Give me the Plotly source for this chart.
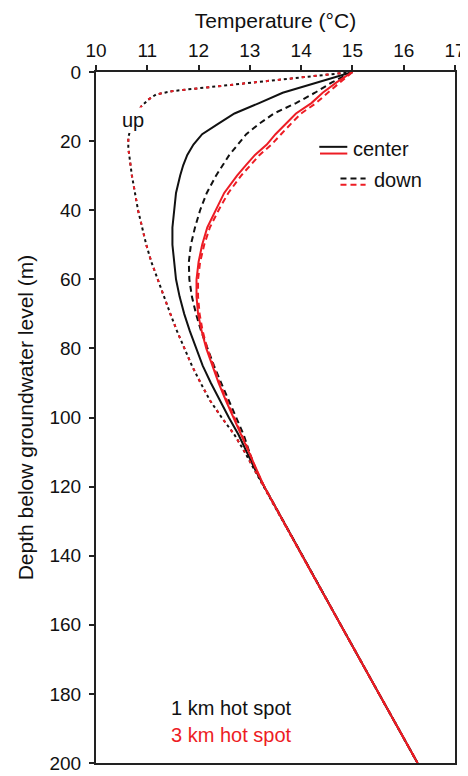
import plotly.graph_objects as go

# ---------------- data ----------------
depth = [0, 3, 6, 9, 12, 15, 18, 21, 24, 27, 30, 35, 40, 45, 50, 55, 60, 65,
         70, 75, 80, 85, 90, 95, 100, 105, 110, 115, 120, 140, 160, 180, 200]

center_1km = [15.0, 14.32, 13.64, 13.18, 12.70, 12.38, 12.07, 11.90, 11.78, 11.70,
              11.64, 11.56, 11.52, 11.49, 11.49, 11.52, 11.56, 11.63, 11.72, 11.83,
              11.95, 12.08, 12.24, 12.41, 12.59, 12.78, 12.94, 13.10, 13.28,
              14.02, 14.77, 15.52, 16.27]

down_1km = [15.0, 14.60, 14.27, 13.90, 13.47, 13.18, 12.93, 12.77, 12.60, 12.47,
            12.34, 12.16, 12.03, 11.93, 11.85, 11.81, 11.82, 11.87, 11.95, 12.05,
            12.17, 12.30, 12.44, 12.59, 12.74, 12.88, 12.99, 13.11, 13.28,
            14.02, 14.77, 15.52, 16.27]

center_3km = [15.0, 14.69, 14.42, 14.20, 13.90, 13.70, 13.50, 13.33, 13.10, 12.92,
              12.75, 12.50, 12.33, 12.17, 12.07, 12.00, 11.96, 11.96, 11.99, 12.06,
              12.15, 12.27, 12.39, 12.53, 12.68, 12.83, 12.98, 13.12, 13.28,
              14.02, 14.77, 15.52, 16.27]

down_3km = [15.0, 14.75, 14.52, 14.29, 14.00, 13.80, 13.60, 13.42, 13.19, 13.01,
            12.83, 12.58, 12.39, 12.22, 12.11, 12.03, 11.99, 11.99, 12.02, 12.08,
            12.17, 12.29, 12.41, 12.55, 12.70, 12.85, 12.99, 13.12, 13.28,
            14.02, 14.77, 15.52, 16.27]

depth_up = [0, 5.5, 6.5, 8, 10, 13, 16, 19, 22, 26, 30, 35, 40, 45, 50, 55, 60,
            65, 70, 75, 80, 85, 90, 95, 100, 105, 110, 115, 120, 140, 160, 180, 200]

up_1km = [15.0, 11.50, 11.17, 11.02, 10.88, 10.77, 10.68, 10.63, 10.63, 10.66,
          10.70, 10.76, 10.82, 10.90, 10.98, 11.08, 11.20, 11.32, 11.45, 11.58,
          11.72, 11.87, 12.04, 12.22, 12.45, 12.70, 12.90, 13.09, 13.27,
          14.02, 14.77, 15.52, 16.27]

up_3km = [15.0, 11.50, 11.17, 11.02, 10.88, 10.77, 10.68, 10.63, 10.63, 10.66,
          10.70, 10.76, 10.82, 10.90, 10.98, 11.08, 11.20, 11.32, 11.45, 11.58,
          11.72, 11.87, 12.04, 12.22, 12.45, 12.70, 12.90, 13.09, 13.27,
          14.02, 14.77, 15.52, 16.27]

x_ticks = list(range(10, 18))
y_ticks = list(range(0, 201, 20))

BLACK = "#111111"
RED = "#ed1c24"
FONT = "Liberation Sans, Arial, Helvetica, sans-serif"

fig = go.Figure()

def add(x, y, color, dash, width=2):
    fig.add_trace(go.Scatter(x=x, y=y, mode="lines", showlegend=False,
                             hoverinfo="skip",
                             line=dict(color=color, width=width, dash=dash)))

# 1 km hot spot (black)
add(center_1km, depth, BLACK, "solid")
add(down_1km, depth, BLACK, "6px,4px")
add(up_1km, depth_up, BLACK, "3px,3px")
# 3 km hot spot (red)
add(center_3km, depth, RED, "solid")
add(down_3km, depth, RED, "6px,4px")
add(up_3km, depth_up, RED, "3px,9px")

# legend samples (decorations in paper coordinates)
def seg(x0, x1, y, color, dash):
    fig.add_shape(type="line", xref="paper", yref="paper", x0=x0, x1=x1, y0=y, y1=y,
                  line=dict(color=color, width=2, dash=dash))

seg(0.622, 0.700, 0.8917, BLACK, "solid")
seg(0.624, 0.700, 0.8820, RED, "solid")
seg(0.681, 0.751, 0.8460, BLACK, "6px,4px")
seg(0.681, 0.751, 0.8370, RED, "6px,4px")

def note(text, x, y, color=BLACK, xanchor="left", bg=None):
    fig.add_annotation(text=text, x=x, y=y, xref="paper", yref="paper",
                       xanchor=xanchor, yanchor="middle", showarrow=False,
                       font=dict(family=FONT, size=20, color=color),
                       bgcolor=bg)

note("center", 0.711, 0.889)
note("down", 0.768, 0.843)
note("up", 0.104, 0.930, xanchor="center", bg="white")
note("1 km hot spot", 0.203, 0.080)
note("3 km hot spot", 0.203, 0.040, color=RED)

axis_common = dict(showline=True, linecolor="#222222", linewidth=2, mirror=True,
                   ticks="outside", ticklen=5, tickwidth=1.5, tickcolor="#222222",
                   showgrid=False, zeroline=False,
                   tickfont=dict(family=FONT, size=19, color="#111111"),
                   title_font=dict(family=FONT, size=21, color="#111111"))

fig.update_xaxes(range=[10, 17], tickvals=x_ticks, side="top",
                 title_text="Temperature (°C)", title_standoff=6, **axis_common)
fig.update_yaxes(range=[200, 0], tickvals=y_ticks,
                 title_text="Depth below groundwater level (m)", title_standoff=10,
                 ticklabelstandoff=4, **axis_common)

fig.update_layout(width=468, height=776, plot_bgcolor="white", paper_bgcolor="white",
                  margin=dict(l=88, r=10, t=64, b=10),
                  font=dict(family=FONT, color="#111111"))

fig.write_html("out.html")
